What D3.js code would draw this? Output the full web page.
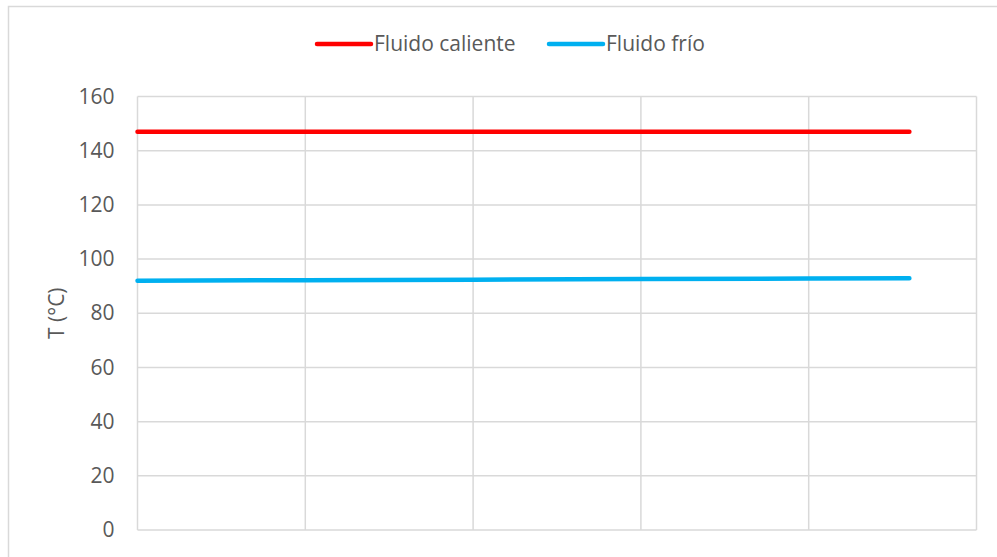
<!DOCTYPE html>
<html><head><meta charset="utf-8">
<script src="https://cdn.jsdelivr.net/npm/d3@7"></script>
<style>body{margin:0;background:#fff}svg{display:block}text{font-family:"Open Sans",sans-serif;fill:#595959}</style>
</head><body><svg id="c" width="997" height="557"></svg>
<script>
const xValues = [0, 1, 2, 3, 4, 4.6];
const hotValues = [147, 147, 147, 147, 147, 147];
const coldValues = [92.0, 92.2, 92.4, 92.6, 92.8, 92.9];
const seriesNames = ["Fluido caliente", "Fluido frío"];
const seriesColors = ["#FF0000", "#00B0F0"];
const yTicks = [0, 20, 40, 60, 80, 100, 120, 140, 160];
const xGrid = [0, 1, 2, 3, 4, 5];
const yTitle = "T (°C)";
const FS = 21;

const svg = d3.select("#c");
svg.append("rect").attr("x",8.5).attr("y",6.5).attr("width",1100).attr("height",700)
  .attr("fill","none").attr("stroke","#D9D9D9").attr("stroke-width",1.5);

const L=137.5, R=976.5, T=96.5, B=530;
const x = d3.scaleLinear().domain([0,5]).range([L,R]);
const y = d3.scaleLinear().domain([0,160]).range([B,T]);

const g = svg.append("g");
g.selectAll(".hg").data(yTicks).join("line")
  .attr("x1",L).attr("x2",R).attr("y1",d=>y(d)).attr("y2",d=>y(d))
  .attr("stroke","#D9D9D9").attr("stroke-width",1.5);
g.selectAll(".vg").data(xGrid).join("line")
  .attr("x1",d=>x(d)).attr("x2",d=>x(d)).attr("y1",T).attr("y2",B)
  .attr("stroke","#D9D9D9").attr("stroke-width",1.5);

const yAxis = d3.axisLeft(y).tickValues(yTicks).tickSize(0).tickPadding(0);
const ya = svg.append("g").attr("transform",`translate(${L-23},0)`).call(yAxis);
ya.select(".domain").remove();
ya.selectAll("text").attr("font-size",FS).style("font-family",'"Open Sans",sans-serif').attr("fill","#595959");

svg.append("text").attr("transform",`translate(64,${(T+B)/2}) rotate(-90)`)
  .attr("text-anchor","middle").attr("font-size",FS).text(yTitle);

const line = d3.line().x((d,i)=>x(xValues[i])).y(d=>y(d));
[hotValues, coldValues].forEach((vals,i)=>{
  svg.append("path").datum(vals).attr("d",line).attr("fill","none")
    .attr("stroke",seriesColors[i]).attr("stroke-width",4.5).attr("stroke-linecap","round");
});

// legend
const legX = [317, 549];
seriesNames.forEach((n,i)=>{
  const lg = svg.append("g");
  lg.append("line").attr("x1",legX[i]).attr("x2",legX[i]+54).attr("y1",44).attr("y2",44)
    .attr("stroke",seriesColors[i]).attr("stroke-width",4.5).attr("stroke-linecap","round");
  lg.append("text").attr("x",legX[i]+57).attr("y",44).attr("dy","0.35em").attr("font-size",FS).text(n);
});
</script></body></html>
